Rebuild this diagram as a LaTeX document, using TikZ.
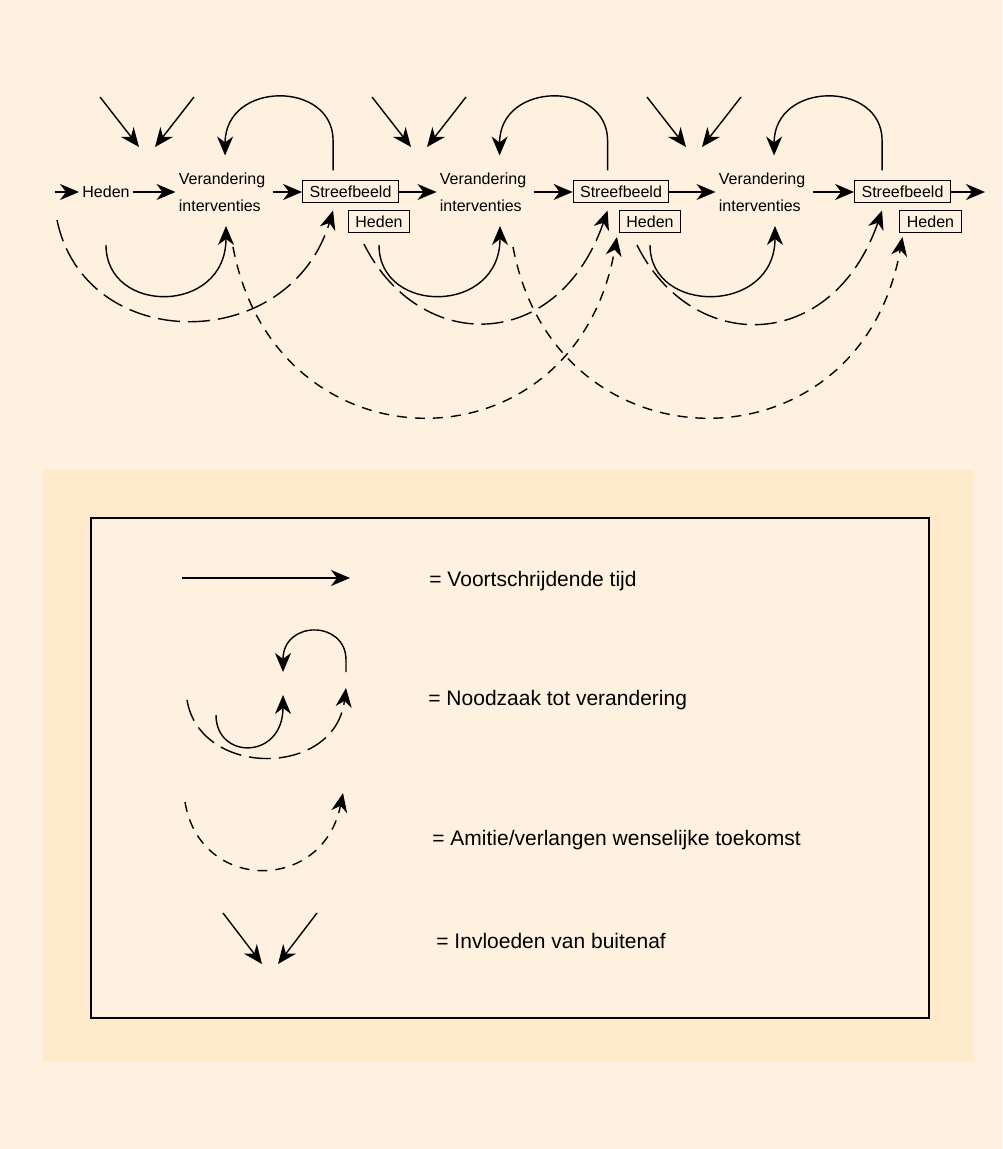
\documentclass[tikz,border=0pt]{standalone}
\usepackage{fontspec}
\setmainfont{Liberation Sans}
\usepackage{tikz}
\usetikzlibrary{arrows.meta,calc}

\definecolor{bgcream}{RGB}{254,241,224}
\definecolor{panelcream}{RGB}{255,235,204}

\begin{document}
\begin{tikzpicture}[x=0.5pt,y=-0.5pt,
    >={Stealth[length=9.5pt,width=8pt,inset=3pt]},
    lbl/.style={inner sep=1.5pt,font=\fontsize{8}{13.3}\selectfont},
    box/.style={draw,line width=0.5pt,inner xsep=3.5pt,inner ysep=0pt,minimum height=11pt,font=\fontsize{8}{10}\selectfont},
    flow/.style={->,line width=0.7pt},
    wish/.style={->,line width=0.7pt,dash pattern=on 11pt off 4pt},
    hope/.style={->,line width=0.7pt,dash pattern=on 5pt off 4pt},
    legtxt/.style={anchor=base west,inner sep=0pt,font=\fontsize{10.5}{12}\selectfont}]

% background and legend panel
\fill[bgcream] (0,0) rectangle (1002,1149);
\fill[panelcream] (43,470) rectangle (974,1062);
\draw[line width=0.75pt,fill=bgcream] (91,518) rectangle (929,1018);

% stages
\coordinate (begin) at (55,192);
\node [lbl] (heden0) at (106,192) {Heden};
\node [lbl,anchor=west,align=left] (ver1) at (175.5,192) {Verandering\\interventies};
\node [box] (sb1) at (350.5,192) {Streefbeeld};
\node [box] (hd1) at (379,221.5) {Heden};
\node [lbl,anchor=west,align=left] (ver2) at (436.5,192) {Verandering\\interventies};
\node [box] (sb2) at (621,192) {Streefbeeld};
\node [box] (hd2) at (650,221.5) {Heden};
\node [lbl,anchor=west,align=left] (ver3) at (715.5,192) {Verandering\\interventies};
\node [box] (sb3) at (902.5,192) {Streefbeeld};
\node [box] (hd3) at (930.5,221.5) {Heden};
\coordinate (end) at (985,192);

\coordinate (lowrow) at (0,245);
\coordinate (vin1) at (226,226);
\coordinate (vin2) at (500,226);
\coordinate (vin3) at (775,226);

% time axis
\draw[flow] (begin) -- (heden0);
\draw[flow] (heden0) -- (ver1);
\draw[flow,shorten <=2pt] (ver1) -- (sb1);
\draw[flow] (sb1) -- (ver2);
\draw[flow,shorten <=2pt] (ver2) -- (sb2);
\draw[flow] (sb2) -- (ver3);
\draw[flow,shorten <=2pt] (ver3) -- (sb3);
\draw[flow] (sb3) -- (end);

% outside influences
\foreach \i/\gx in {1/100,2/372,3/647}{
    \coordinate (inl\i) at (\gx,97);
    \coordinate (inr\i) at (\gx+94,97);
    \draw[flow] (inl\i) -- ++(39,50);
    \draw[flow] (inr\i) -- ++(-39,50);
}

% feedback from Streefbeeld
\foreach \i/\dx in {1/31,2/35,3/28}{
    \draw[flow] ($(sb\i.north west)+(\dx,-10)$) -- ++(0,-30) .. controls +(0,-60) and +(0,-75) .. ++(-108,15);
}

% need for change
\draw[flow] (heden0 |- lowrow) .. controls +(0,70) and +(0,89) .. (vin1);
\draw[flow] (hd1 |- lowrow) .. controls +(0,70) and +(0,89) .. (vin2);
\draw[flow] (hd2 |- lowrow) .. controls +(0,70) and +(0,89) .. (vin3);
\draw[wish] ($(begin)+(2,28)$) .. controls +(28,135) and +(-44,145) .. ($(sb1.south west)+(31,7)$);
\draw[wish] ($(hd1.south west)+(16,11)$) .. controls +(55,110) and +(-50,144) .. ($(sb2.south west)+(35,7)$);
\draw[wish] ($(hd2.south west)+(18,12)$) .. controls +(55,110) and +(-50,144) .. ($(sb3.south west)+(28,7)$);

% ambition
\draw[hope] ($(vin1)+(7,21)$) .. controls +(43,228) and +(-42,238) .. ($(hd2.south west)+(-2,4)$);
\draw[hope] ($(vin2)+(13,21)$) .. controls +(43,228) and +(-42,238) .. ($(hd3.south west)+(3,4)$);

% legend
\coordinate (tijdA) at (182,578);
\coordinate (tijdB) at (350,578);
\draw[flow] (tijdA) -- (tijdB);
\node [legtxt] (tijd) at (429,586) {= Voortschrijdende tijd};

\draw[flow] (346,672) -- ++(0,-12) .. controls +(0,-40) and +(0,-52) .. (283,672);
\draw[flow] (216,715) .. controls +(0,45) and +(0,65) .. (283,695);
\draw[wish] (187,700) .. controls (200,778) and (335,778) .. (346,688);
\node [legtxt] (nood) at (428,705) {= Noodzaak tot verandering};

\draw[hope] (185,802) .. controls (200,893) and (323,893) .. (343,793);
\node [legtxt] (amitie) at (432,845) {= Amitie/verlangen wenselijke toekomst};

\coordinate (legl) at (223,913);
\coordinate (legr) at (317,913);
\draw[flow] (legl) -- ++(39,51);
\draw[flow] (legr) -- ++(-39,51);
\node [legtxt] (invl) at (436,948) {= Invloeden van buitenaf};

\end{tikzpicture}
\end{document}
